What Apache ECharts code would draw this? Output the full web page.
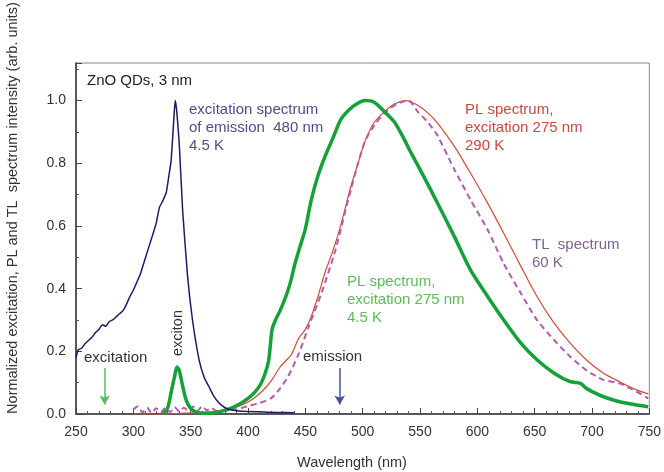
<!DOCTYPE html>
<html>
<head>
<meta charset="utf-8">
<script src="https://cdn.jsdelivr.net/npm/echarts@6/dist/echarts.min.js"></script>
<style>
  html, body { margin: 0; padding: 0; background: #fff; overflow: hidden; }
  #chart { width: 664px; height: 472px; }
</style>
</head>
<body>
<div id="chart"></div>
<script>
// excitation spectrum of emission 480 nm, 4.5 K
var excWl = [250, 252, 255, 258, 261, 264, 267, 270, 273, 276, 279, 282, 285, 288, 291, 294, 297, 300,
  303, 306, 309, 312, 315, 318, 320, 322.8, 325, 328.6, 331, 333, 335.8, 336.7, 338, 340, 343, 347.3,
  351.6, 357.5, 362, 366, 370, 374.8, 380, 386, 395, 410, 425, 440];
var excVal = [0.18, 0.205, 0.21, 0.225, 0.235, 0.245, 0.26, 0.27, 0.285, 0.28, 0.295, 0.30, 0.31, 0.32,
  0.33, 0.35, 0.375, 0.395, 0.42, 0.445, 0.48, 0.515, 0.55, 0.585, 0.61, 0.66, 0.675, 0.705, 0.76, 0.81,
  0.97, 1.0, 0.96, 0.865, 0.65, 0.44, 0.30, 0.17, 0.115, 0.087, 0.058, 0.035, 0.02, 0.013, 0.009, 0.007,
  0.005, 0.004];

// PL spectrum, excitation 275 nm, 4.5 K
var pl4Wl = [326, 330, 333, 336, 338, 340, 343, 346, 350, 355, 362, 370, 378, 385, 392, 400, 406, 411,
  415, 418, 419.5, 421, 424, 428, 433, 437, 441, 445, 450, 455, 461, 467, 474, 481, 488, 495, 502, 510,
  519, 528, 535, 542, 553, 565, 580, 594, 609, 623, 638, 652, 667, 681, 690, 695, 702, 710, 724, 739, 749];
var pl4Val = [0.0, 0.02, 0.07, 0.12, 0.15, 0.14, 0.09, 0.045, 0.018, 0.006, 0.002, 0.003, 0.01, 0.018,
  0.03, 0.05, 0.07, 0.095, 0.13, 0.17, 0.22, 0.27, 0.30, 0.33, 0.375, 0.42, 0.48, 0.53, 0.59, 0.68, 0.76,
  0.82, 0.88, 0.94, 0.97, 0.99, 1.0, 0.995, 0.965, 0.93, 0.885, 0.835, 0.76, 0.675, 0.566, 0.46, 0.375,
  0.30, 0.226, 0.173, 0.13, 0.103, 0.098, 0.082, 0.068, 0.055, 0.039, 0.029, 0.023];

// PL spectrum, excitation 275 nm, 290 K
var pl290Wl = [300, 310, 320, 330, 340, 350, 360, 370, 380, 392, 403, 413, 421, 428, 433, 438, 444, 450,
  455, 461, 467, 473, 480, 485, 490, 496, 502, 510, 519, 528, 538, 548, 557, 565, 580, 594, 609, 623,
  638, 652, 667, 681, 695, 710, 724, 739, 749];
var pl290Val = [0.0, 0.0, -0.002, 0.0, 0.002, 0.003, 0.005, 0.008, 0.013, 0.025, 0.045, 0.075, 0.11,
  0.15, 0.17, 0.19, 0.24, 0.27, 0.31, 0.375, 0.45, 0.51, 0.59, 0.66, 0.73, 0.80, 0.87, 0.93, 0.965, 0.99,
  1.0, 0.985, 0.96, 0.93, 0.854, 0.769, 0.673, 0.577, 0.471, 0.375, 0.29, 0.226, 0.173, 0.13, 0.103,
  0.077, 0.064];

// TL spectrum, 60 K
var tlWl = [300, 304, 308, 312, 316, 320, 324, 328, 332, 336, 340, 344, 348, 352, 356, 360, 364, 368, 372,
  380, 390, 400, 410, 420, 427, 435, 444, 453, 464, 476, 485, 490, 496, 502, 510, 519, 530, 540, 548,
  557, 565, 580, 594, 609, 623, 638, 652, 667, 681, 695, 710, 724, 739, 749];
var tlVal = [0.015, 0.025, 0.005, 0.02, 0.003, 0.018, 0.005, 0.02, 0.006, 0.022, 0.008, 0.02, 0.01,
  0.024, 0.01, 0.025, 0.012, 0.02, 0.01, 0.01, 0.015, 0.025, 0.035, 0.05, 0.077, 0.12, 0.19, 0.28, 0.385,
  0.52, 0.65, 0.72, 0.80, 0.87, 0.92, 0.96, 0.99, 1.0, 0.965, 0.93, 0.89, 0.78, 0.684, 0.588, 0.48,
  0.385, 0.30, 0.236, 0.183, 0.14, 0.109, 0.098, 0.071, 0.05];

var yTicks = [0, 0.2, 0.4, 0.6, 0.8, 1.0];

function zip(xs, ys) {
  return xs.map(function (x, i) { return [x, ys[i]]; });
}

var FONT = 'Liberation Sans, Arial, sans-serif';

function arrow(wl, color) {
  return {
    silent: true,
    symbol: ['none', 'arrow'],
    symbolSize: [8, 9],
    label: { show: false },
    lineStyle: { color: color, width: 1.5, type: 'solid' },
    data: [[{ coord: [wl, 0.147] }, { coord: [wl, 0.03] }]]
  };
}

function note(left, top, text, color) {
  return {
    type: 'text', left: left, top: top,
    style: { text: text, fill: color, font: '15px ' + FONT, lineHeight: 18 }
  };
}

var chart = echarts.init(document.getElementById('chart'), null, { renderer: 'canvas' });

var option = {
  animation: false,
  backgroundColor: '#fff',
  textStyle: { fontFamily: FONT },
  grid: {
    left: 76, right: 12, top: 63, bottom: 58,
    show: true, borderColor: '#8a8a8a', borderWidth: 1
  },
  xAxis: {
    type: 'value',
    min: 250, max: 750, interval: 50,
    axisLine: { lineStyle: { color: '#333', width: 1.5 } },
    axisTick: { inside: true, length: 6, lineStyle: { color: '#444' } },
    minorTick: { show: true, splitNumber: 5, length: 3, lineStyle: { color: '#555' } },
    axisLabel: { fontSize: 14, color: '#333', margin: 11, fontFamily: FONT },
    splitLine: { show: false }
  },
  yAxis: {
    type: 'value',
    min: 0, max: 1.12, interval: 0.2,
    axisLine: { show: true, lineStyle: { color: '#333', width: 1.5 } },
    axisTick: { show: true, inside: true, length: 6, lineStyle: { color: '#444' } },
    minorTick: { show: true, splitNumber: 2, length: 3, lineStyle: { color: '#555' } },
    axisLabel: {
      fontSize: 14, color: '#333', margin: 10, fontFamily: FONT,
      formatter: function (v) {
        return yTicks.some(function (t) { return Math.abs(t - v) < 1e-6; }) ? v.toFixed(1) : '';
      }
    },
    splitLine: { show: false }
  },
  series: [
    {
      name: 'PL 290 K',
      type: 'line',
      data: zip(pl290Wl, pl290Val),
      showSymbol: false,
      smooth: 0.25,
      lineStyle: { color: '#d04a3a', width: 1.2 },
      z: 2
    },
    {
      name: 'TL 60 K',
      type: 'line',
      data: zip(tlWl, tlVal),
      showSymbol: false,
      smooth: 0.25,
      lineStyle: { color: '#b25aae', width: 2, type: [6, 4] },
      z: 3
    },
    {
      name: 'PL 4.5 K',
      type: 'line',
      data: zip(pl4Wl, pl4Val),
      showSymbol: false,
      smooth: 0.25,
      lineStyle: { color: '#16a03a', width: 3.5 },
      markLine: arrow(275, '#5cb85c'),
      z: 4
    },
    {
      name: 'excitation 480 nm',
      type: 'line',
      data: zip(excWl, excVal),
      showSymbol: false,
      smooth: 0.15,
      lineStyle: { color: '#1f1a66', width: 1.5 },
      markLine: arrow(480, '#44538f'),
      z: 5
    }
  ],
  graphic: [
    {
      type: 'text', x: 13, y: 208, rotation: Math.PI / 2,
      style: {
        text: 'Normalized excitation, PL and TL  spectrum intensity (arb. units)',
        fill: '#333', font: '14.5px ' + FONT, textAlign: 'center', textVerticalAlign: 'middle'
      }
    },
    {
      type: 'text', x: 352, y: 463,
      style: {
        text: 'Wavelength (nm)', fill: '#333', font: '14.5px ' + FONT,
        textAlign: 'center', textVerticalAlign: 'middle'
      }
    },
    note(87, 72, 'ZnO QDs, 3 nm', '#222'),
    note(189, 101, 'excitation spectrum\nof emission  480 nm\n4.5 K', '#4d4f8c'),
    note(465, 101, 'PL spectrum,\nexcitation 275 nm\n290 K', '#c9483f'),
    note(532, 236, 'TL  spectrum\n60 K', '#7d6190'),
    note(347, 273, 'PL spectrum,\nexcitation 275 nm\n4.5 K', '#5fb85a'),
    note(84, 349, 'excitation', '#333'),
    note(303, 348, 'emission', '#333'),
    {
      type: 'text', x: 178, y: 333, rotation: Math.PI / 2,
      style: {
        text: 'exciton', fill: '#333', font: '14.5px ' + FONT,
        textAlign: 'center', textVerticalAlign: 'middle'
      }
    }
  ]
};

chart.setOption(option);
</script>
</body>
</html>
